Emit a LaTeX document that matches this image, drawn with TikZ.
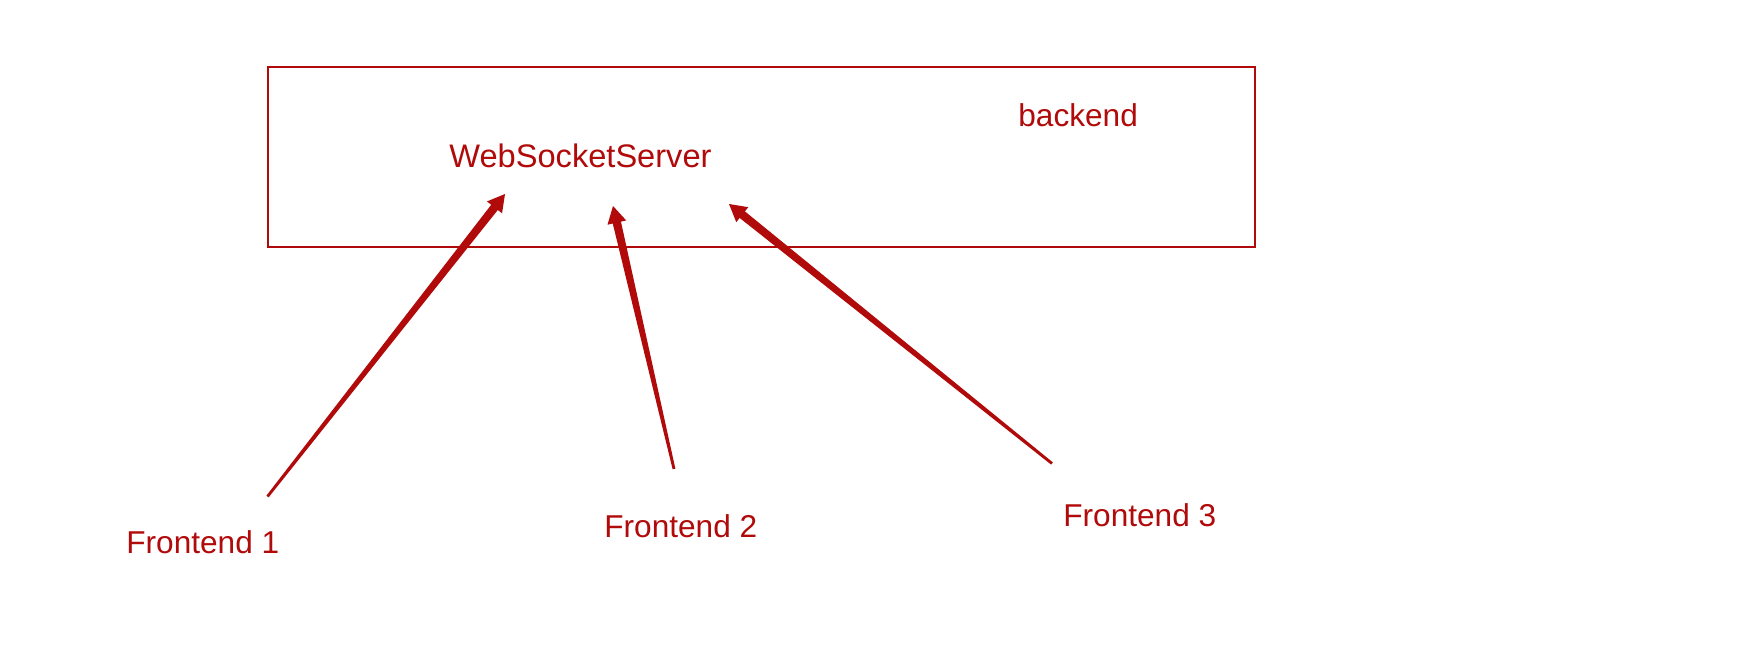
\documentclass[tikz,border=0pt]{standalone}
\usepackage{fontspec}
\setmainfont{Liberation Sans}
\usetikzlibrary{calc}
\definecolor{dred}{RGB}{176,10,10}
\tikzset{
  lbl/.style={text=dred, inner sep=0pt, anchor=base west, font=\fontsize{15.8pt}{18pt}\selectfont},
  boxline/.style={draw=dred, line width=1pt},
  arrowc/.style={fill=dred}
}
\newcommand\taperarrow[2]{%
  \path ($(#2)!8.5pt!(#1)$) coordinate (hb);
  \fill[arrowc] ($(#1)!0.7pt!90:(#2)$) -- ($(hb)!2.1pt!-90:(#1)$) -- ($(hb)!4.8pt!-90:(#1)$) -- (#2)
     -- ($(hb)!4.8pt!90:(#1)$) -- ($(hb)!2.1pt!90:(#1)$) -- ($(#1)!0.7pt!-90:(#2)$) -- cycle;}
\begin{document}
\begin{tikzpicture}[x=0.5pt,y=-0.5pt]
\useasboundingbox (0,0) rectangle (1764,664);
\draw[boxline] (268,67) rectangle (1255,247);
\node[lbl, font=\fontsize{16.3pt}{18pt}\selectfont] (ws) at (449,167) {WebSocketServer};
\node[lbl] (be) at (1018,126) {backend};
\node[lbl] (f1) at (126,553) {Frontend 1};
\node[lbl] (f2) at (604,537) {Frontend 2};
\node[lbl] (f3) at (1063,526) {Frontend 3};
\coordinate (t1) at (267.5,496.5);
\coordinate (p1) at (505,194);
\coordinate (t2) at (674,469);
\coordinate (p2) at (613,206);
\coordinate (t3) at (1052,463.5);
\coordinate (p3) at (729,204);
\taperarrow{t1}{p1}
\taperarrow{t2}{p2}
\taperarrow{t3}{p3}
\end{tikzpicture}
\end{document}
